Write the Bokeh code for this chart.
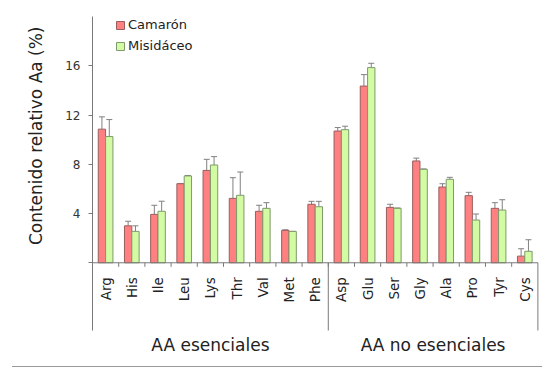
import math
from bokeh.plotting import figure
from bokeh.models import (ColumnDataSource, Range1d, FixedTicker, Whisker, TeeHead,
                          Legend, LegendItem, Title, Div)
from bokeh.layouts import column
from bokeh.core.properties import value
from bokeh.embed import file_html
from bokeh.resources import INLINE

# ---------------- data ----------------
aminoacids = ["Arg", "His", "Ile", "Leu", "Lys", "Thr", "Val", "Met", "Phe",
              "Asp", "Glu", "Ser", "Gly", "Ala", "Pro", "Tyr", "Cys"]
groups = ["AA esenciales", "AA no esenciales"]
group_sizes = [9, 8]
camaron = [10.85, 3.0, 3.93, 6.42, 7.5, 5.23, 4.18, 2.63, 4.75,
           10.7, 14.35, 4.5, 8.27, 6.15, 5.45, 4.42, 0.54]
camaron_sd = [1.0, 0.37, 0.74, 0.0, 0.9, 1.68, 0.49, 0.05, 0.24,
              0.28, 0.93, 0.25, 0.23, 0.27, 0.27, 0.46, 0.6]
misidaceo = [10.25, 2.55, 4.18, 7.05, 7.94, 5.48, 4.42, 2.55, 4.55,
             10.81, 15.85, 4.42, 7.59, 6.78, 3.47, 4.28, 0.93]
misidaceo_sd = [1.38, 0.45, 0.82, 0.04, 0.68, 1.89, 0.46, 0.0, 0.44,
                0.28, 0.35, 0.03, 0.03, 0.16, 0.49, 0.84, 0.94]
series_names = ["Camarón", "Misidáceo"]
yticks = [0, 4, 8, 12, 16]
y_label = "Contenido relativo Aa (%)"

FONT = value("DejaVu Sans")
RED, RED_LINE = "#ff8080", "#9a5e5e"
GREEN, GREEN_LINE = "#d2fba4", "#7f9a6c"
AXIS = "#7a7a7a"

W, H = 543, 355
n = len(aminoacids)
centers = [i + 0.5 for i in range(n)]
bw = 0.28

src_c = ColumnDataSource(dict(x=[c - bw / 2 for c in centers], top=camaron,
                              upper=[v + s for v, s in zip(camaron, camaron_sd)]))
src_m = ColumnDataSource(dict(x=[c + bw / 2 for c in centers], top=misidaceo,
                              upper=[v + s for v, s in zip(misidaceo, misidaceo_sd)]))

p = figure(width=W, height=H, x_range=Range1d(0, 17.1), y_range=Range1d(-7.53, 20.0),
           output_backend="svg", toolbar_location=None,
           min_border_left=92, min_border_right=3, min_border_top=16, min_border_bottom=0)
p.outline_line_color = None
p.xgrid.visible = False
p.ygrid.visible = False
p.xaxis.visible = False

r1 = p.vbar(x="x", top="top", bottom=0, width=bw, source=src_c,
            fill_color=RED, line_color=RED_LINE, line_width=1)
r2 = p.vbar(x="x", top="top", bottom=0, width=bw, source=src_m,
            fill_color=GREEN, line_color=GREEN_LINE, line_width=1)

for src in (src_c, src_m):
    w = Whisker(base="x", lower="top", upper="upper", source=src, dimension="height",
                line_color="#808080", line_width=1,
                upper_head=TeeHead(size=6, line_color="#808080", line_width=1),
                lower_head=None)
    p.add_layout(w)

# baseline and category separators
p.segment(x0=[0], y0=[0], x1=[n], y1=[0], line_color=AXIS, line_width=1)
p.segment(x0=list(range(1, n)), y0=[0] * (n - 1), x1=list(range(1, n)), y1=[-0.33] * (n - 1),
          line_color=AXIS, line_width=1)
bounds = [0]
for g in group_sizes:
    bounds.append(bounds[-1] + g)
p.segment(x0=bounds[1:], y0=[0] * len(bounds[1:]), x1=bounds[1:], y1=[-5.5] * len(bounds[1:]),
          line_color=AXIS, line_width=1)

# category labels
p.text(x=centers, y=[-1.17] * n, text=aminoacids, angle=math.pi / 2,
       text_align="right", text_baseline="middle", text_font=FONT,
       text_font_size="13.5px", text_color="#222222")
# group labels
gcent = [(bounds[i] + bounds[i + 1]) / 2 for i in range(len(groups))]
p.text(x=gcent, y=[-6.66] * len(groups), text=groups, text_align="center",
       text_baseline="alphabetic", text_font=FONT, text_font_size="17px", text_color="#222222")

# y axis
ya = p.yaxis[0]
ya.ticker = FixedTicker(ticks=yticks)
ya.major_label_overrides = {0: ""}
ya.bounds = (-5.5, 20.0)
ya.minor_tick_line_color = None
ya.major_tick_in = 0
ya.major_tick_out = 4
ya.axis_line_color = AXIS
ya.major_tick_line_color = AXIS
ya.major_label_text_font = "DejaVu Sans"
ya.major_label_text_font_size = "12px"
ya.major_label_text_color = "#333333"
ya.major_label_standoff = 8

ytitle = Title(text=y_label, align="right", offset=10, standoff=34,
               text_font="DejaVu Sans", text_font_size="17px", text_font_style="normal",
               text_color="#222222")
p.add_layout(ytitle, "left")

frame_h = H - 16
legend = Legend(items=[LegendItem(label=series_names[0], renderers=[r1]),
                       LegendItem(label=series_names[1], renderers=[r2])],
                location=(23, frame_h + 2 - 42), padding=0, margin=0,
                glyph_width=10, glyph_height=10, label_height=21, spacing=0,
                label_standoff=3, border_line_color=None, background_fill_alpha=0,
                label_text_font="DejaVu Sans", label_text_font_size="13px",
                label_text_color="#222222")
p.add_layout(legend)

# bottom rule (page decoration under the chart)
rule = Div(text='<div style="height:10px"></div>'
                '<div style="height:1.5px;width:530px;margin-left:12px;background:#9a9a9a"></div>',
           width=W, height=16, margin=0)

layout = column(p, rule, spacing=0)
open("out.html", "w").write(file_html(layout, INLINE))
